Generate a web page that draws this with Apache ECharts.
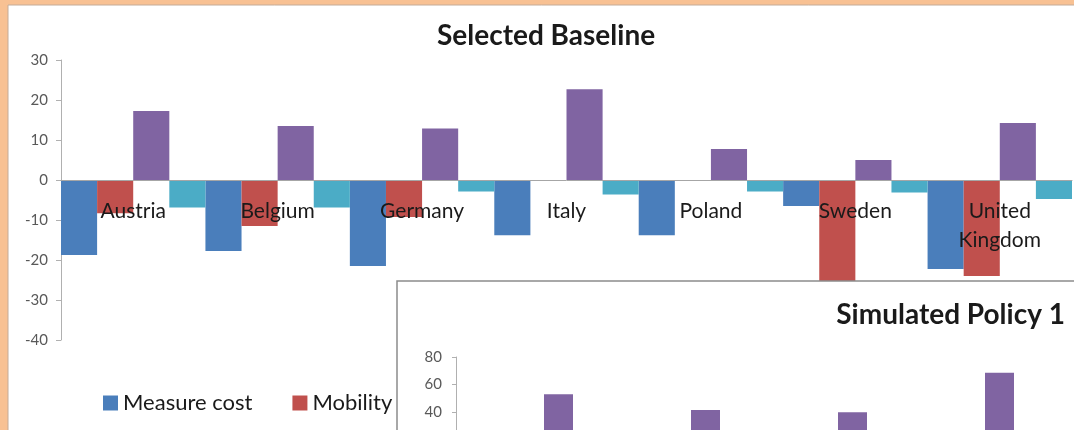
<!DOCTYPE html>
<html>
<head>
<meta charset="utf-8">
<script src="https://cdn.jsdelivr.net/npm/echarts@6/dist/echarts.min.js"></script>
<style>
  html, body { margin: 0; padding: 0; background: #F8C193; }
  #chart { width: 1074px; height: 430px; }
</style>
</head>
<body>
<div id="chart"></div>
<script>
// ---- Data ----
const categories = ['Austria', 'Belgium', 'Germany', 'Italy', 'Poland', 'Sweden', 'United\nKingdom'];
const seriesNames = ['Measure cost', 'Mobility', 'Series 3', 'Series 4'];
const measureCost = [-18.75, -17.75, -21.5, -13.8, -13.8, -6.5, -22.25];
const mobility    = [-8.3, -11.5, -9.25, 0, 0, -28, -24];
const series3     = [17.25, 13.5, 12.9, 22.7, 7.75, 5, 14.25];
const series4     = [-6.9, -6.9, -2.9, -3.6, -2.9, -3.1, -4.75];
const mainTicks   = { min: -40, max: 30, interval: 10 };

// Inset "Simulated Policy 1" (only the visible upper part of the purple bars)
const insetCategories = ['Austria', 'Belgium', 'Germany', 'Italy'];
const insetSeries3    = [53, 41.5, 39.8, 68.5];
const insetTicks      = { min: 0, max: 80, interval: 20 };

const colors = ['#4A7EBB', '#C0504D', '#8064A2', '#4BACC6'];
const FONT = 'Lato, "Open Sans", sans-serif';

const chart = echarts.init(document.getElementById('chart'), null, { renderer: 'canvas' });

const mainData = [measureCost, mobility, series3, series4];

const option = {
  backgroundColor: 'transparent',
  animation: false,
  textStyle: { fontFamily: FONT },
  title: [
    { text: 'Selected Baseline', left: 437, top: 22, padding: 0,
      textStyle: { fontFamily: FONT, fontSize: 28, fontWeight: 'bold', color: '#1a1a1a' } },
    { text: 'Simulated Policy 1', right: 9, top: 301, padding: 0, z: 20,
      textStyle: { fontFamily: FONT, fontSize: 28, fontWeight: 'bold', color: '#1a1a1a' } }
  ],
  legend: {
    data: seriesNames,
    left: 98, top: 387,
    icon: 'rect', itemWidth: 15, itemHeight: 15, itemGap: 40,
    textStyle: { fontFamily: FONT, fontSize: 22, color: '#1a1a1a' }
  },
  graphic: [
    { type: 'rect', z: -1, shape: { x: 8, y: 5, width: 1080, height: 440 },
      style: { fill: '#ffffff', stroke: '#c4ab98', lineWidth: 1 } },
    { type: 'rect', z: 10, shape: { x: 397, y: 281, width: 700, height: 200 },
      style: { fill: '#ffffff', stroke: '#8c8c8c', lineWidth: 1.5 } }
  ],
  grid: [
    { left: 61, top: 60, width: 1011, height: 280, outerBoundsMode: 'none', containLabel: false },
    { left: 485, top: 357, width: 588, height: 110, outerBoundsMode: 'none', containLabel: false }
  ],
  xAxis: [
    { type: 'category', gridIndex: 0, data: categories, z: 3,
      position: 'bottom', offset: -160,
      axisLine: { onZero: false, lineStyle: { color: '#a6a6a6', width: 1 } },
      axisTick: { show: false },
      axisLabel: { interval: 0, margin: 17, fontFamily: FONT, fontSize: 21, lineHeight: 29,
                   color: '#1a1a1a', align: 'center' },
      splitLine: { show: false } },
    { type: 'category', gridIndex: 1, data: insetCategories, show: false }
  ],
  yAxis: [
    { type: 'value', gridIndex: 0, min: mainTicks.min, max: mainTicks.max, interval: mainTicks.interval,
      axisLine: { show: true, lineStyle: { color: '#b0b0b0' } },
      axisTick: { show: true, length: 5, lineStyle: { color: '#b0b0b0' } },
      axisLabel: { margin: 13, fontFamily: FONT, fontSize: 15, color: '#595959' },
      splitLine: { show: false } },
    { type: 'value', gridIndex: 1, min: insetTicks.min, max: insetTicks.max, interval: insetTicks.interval,
      offset: 29, z: 12,
      axisLine: { show: true, lineStyle: { color: '#b0b0b0' } },
      axisTick: { show: true, length: 4, lineStyle: { color: '#b0b0b0' } },
      axisLabel: { margin: 14, fontFamily: FONT, fontSize: 15, color: '#595959' },
      splitLine: { show: false } }
  ],
  series: seriesNames.map((name, i) => ({
    name, type: 'bar', xAxisIndex: 0, yAxisIndex: 0,
    data: mainData[i],
    barGap: '0%', barCategoryGap: '0%',
    itemStyle: { color: colors[i] },
    z: 2
  })).concat([{
    name: 'Series 3', type: 'bar', xAxisIndex: 1, yAxisIndex: 1,
    data: insetSeries3, barWidth: 29,
    itemStyle: { color: colors[2] },
    z: 12
  }])
};

chart.setOption(option);
</script>
</body>
</html>
